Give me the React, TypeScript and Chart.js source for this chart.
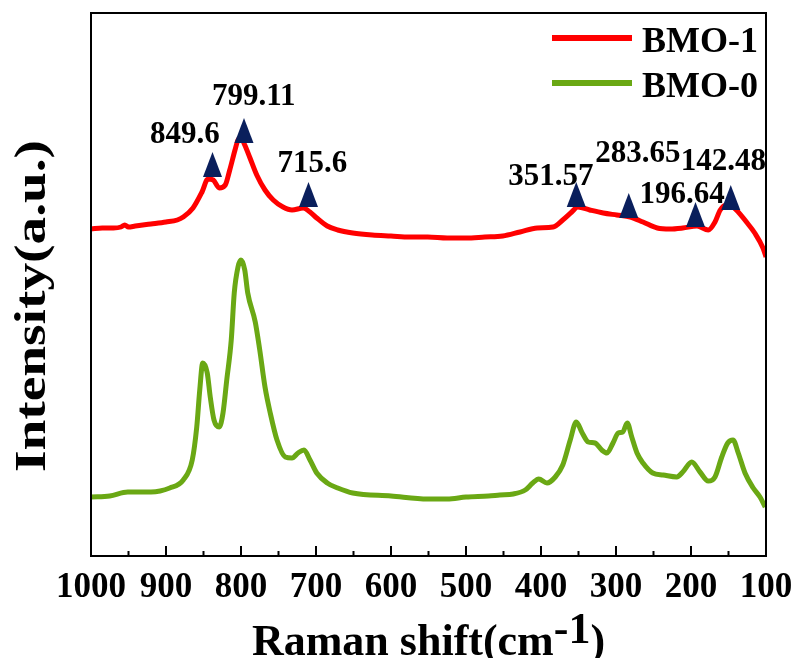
import React, { useEffect, useRef } from 'react';
import { Chart, registerables } from 'chart.js';

Chart.register(...registerables);

// ---------------- data ----------------
const seriesNames = ['BMO-1', 'BMO-0'];

const shiftBMO1 = [1000, 985, 970, 960, 955, 950, 941, 920, 900, 885, 877, 864, 852, 844, 837, 829, 821, 815, 808, 804, 800, 795, 788, 779, 768, 757, 744, 732, 717, 708, 699, 685, 671, 651, 625, 600, 575, 551, 525, 500, 475, 451, 428, 405, 384, 371, 359, 351, 335, 317, 299, 281, 264, 245, 228, 211, 192, 177, 168, 161, 153, 144, 125, 115, 104, 100];
const intensityBMO1 = [327, 328, 328, 329, 331, 329, 330, 332, 334, 336, 339, 348, 364, 377, 376, 368, 371, 386, 406, 416, 418, 411, 398, 381, 366, 356, 349, 346, 348, 344, 338, 330, 326, 323, 321, 320, 319, 319, 318, 318, 319, 320, 324, 328, 329, 336, 344, 349, 346, 343, 341, 339, 334, 328, 327, 328, 330, 326, 334, 346, 351, 349, 333, 323, 308, 299];

const shiftBMO0 = [1000, 975, 951, 920, 895, 877, 865, 859, 855, 851, 845, 841, 836, 829, 824, 819, 813, 809, 804, 800, 795, 791, 781, 775, 768, 761, 752, 741, 732, 724, 716, 708, 699, 685, 671, 651, 600, 551, 525, 500, 470, 455, 437, 421, 411, 403, 392, 381, 371, 361, 353, 345, 337, 328, 319, 312, 304, 297, 291, 285, 279, 272, 264, 251, 237, 219, 211, 199, 188, 177, 168, 159, 151, 144, 137, 128, 117, 108, 101];
const intensityBMO0 = [59, 60, 64, 64, 68, 76, 96, 129, 166, 193, 183, 159, 136, 129, 143, 176, 216, 263, 289, 296, 286, 263, 234, 206, 169, 143, 116, 99, 98, 103, 106, 96, 83, 73, 68, 63, 60, 57, 57, 59, 60, 61, 62, 66, 73, 77, 73, 79, 91, 116, 134, 123, 114, 113, 106, 103, 113, 123, 124, 133, 119, 103, 93, 83, 81, 79, 84, 94, 84, 75, 79, 99, 113, 116, 103, 83, 68, 59, 49];

const peakLabels = ['849.6', '799.11', '715.6', '351.57', '283.65', '196.64', '142.48'];
const peakMarkerShift = [838, 796, 710, 353, 283, 194, 147];
const peakMarkerIntensity = [379, 413, 349, 349, 338, 329, 346];
const peakLabelShift = [875, 783, 705, 387, 271, 212, 157];
const peakLabelIntensity = [413, 451, 384, 371, 394, 353, 386];

const xTickValues = [1000, 950, 900, 850, 800, 750, 700, 650, 600, 550, 500, 450, 400, 350, 300, 250, 200, 150, 100];

const xTitleMain = 'Raman shift(cm';
const xTitleSup = '-1';
const xTitleEnd = ')';
const yTitle = 'Intensity(a.u.)';

// ---------------- style ----------------
const FONT = "'Liberation Serif', 'Times New Roman', serif";
const RED = '#ff0000';
const GREEN = '#6aa814';
const MARKER = '#0a1f5c';

const decor = {
  id: 'decor',
  afterDraw(chart: any) {
    const { ctx, chartArea: a, scales } = chart;
    const xs = scales.x;
    const ys = scales.y;
    ctx.save();

    // frame
    ctx.strokeStyle = '#000';
    ctx.lineWidth = 2;
    ctx.strokeRect(a.left, a.top, a.right - a.left, a.bottom - a.top);

    // inward ticks
    ctx.lineWidth = 2;
    xTickValues.forEach((v) => {
      const px = xs.getPixelForValue(v);
      const len = v % 100 === 0 ? 10 : 5;
      ctx.beginPath();
      ctx.moveTo(px, a.bottom);
      ctx.lineTo(px, a.bottom - len);
      ctx.stroke();
    });

    // peak markers
    ctx.fillStyle = MARKER;
    peakMarkerShift.forEach((s, i) => {
      const px = xs.getPixelForValue(s);
      const py = ys.getPixelForValue(peakMarkerIntensity[i]);
      ctx.beginPath();
      ctx.moveTo(px - 9.5, py);
      ctx.lineTo(px + 9.5, py);
      ctx.lineTo(px, py - 25);
      ctx.closePath();
      ctx.fill();
    });

    // peak labels
    ctx.fillStyle = '#000';
    ctx.font = `bold 31px ${FONT}`;
    ctx.textAlign = 'center';
    ctx.textBaseline = 'alphabetic';
    peakLabels.forEach((t, i) => {
      ctx.fillText(t, xs.getPixelForValue(peakLabelShift[i]), ys.getPixelForValue(peakLabelIntensity[i]));
    });

    // legend
    ctx.font = `bold 36px ${FONT}`;
    ctx.textAlign = 'left';
    chart.data.datasets.forEach((ds: any, i: number) => {
      const y = 38 + i * 45;
      ctx.strokeStyle = ds.borderColor;
      ctx.lineWidth = 6;
      ctx.beginPath();
      ctx.moveTo(552, y);
      ctx.lineTo(632, y);
      ctx.stroke();
      ctx.fillStyle = '#000';
      ctx.fillText(ds.label, 642, 52 + i * 45);
    });

    // x title with superscript
    ctx.font = `bold 44px ${FONT}`;
    ctx.fillStyle = '#000';
    const w1 = ctx.measureText(xTitleMain).width;
    const w2 = ctx.measureText(xTitleSup).width;
    const w3 = ctx.measureText(xTitleEnd).width;
    const x0 = (a.left + a.right) / 2 - (w1 + w2 + w3) / 2;
    ctx.fillText(xTitleMain, x0, 655);
    ctx.fillText(xTitleSup, x0 + w1, 643);
    ctx.fillText(xTitleEnd, x0 + w1 + w2, 655);

    // y title
    ctx.save();
    ctx.font = `bold 45px ${FONT}`;
    const wy = ctx.measureText(yTitle).width;
    ctx.translate(45, 306);
    ctx.rotate(-Math.PI / 2);
    ctx.scale(332 / wy, 1);
    ctx.textAlign = 'center';
    ctx.fillText(yTitle, 0, 0);
    ctx.restore();

    ctx.restore();
  },
};

export default function App() {
  const ref = useRef<HTMLCanvasElement>(null);
  useEffect(() => {
    if (!ref.current) return;
    const chart = new Chart(ref.current, {
      type: 'line',
      data: {
        datasets: [
          {
            label: seriesNames[0],
            data: shiftBMO1.map((s, i) => ({ x: s, y: intensityBMO1[i] })),
            borderColor: RED,
            borderWidth: 5,
            pointRadius: 0,
            cubicInterpolationMode: 'monotone',
            fill: false,
          },
          {
            label: seriesNames[1],
            data: shiftBMO0.map((s, i) => ({ x: s, y: intensityBMO0[i] })),
            borderColor: GREEN,
            borderWidth: 5,
            pointRadius: 0,
            cubicInterpolationMode: 'monotone',
            fill: false,
          },
        ],
      },
      options: {
        responsive: false,
        animation: false,
        devicePixelRatio: 1,
        layout: { padding: { left: 91, right: 28, top: 13, bottom: 0 } },
        plugins: { legend: { display: false }, tooltip: { enabled: false } },
        scales: {
          x: {
            type: 'linear',
            reverse: true,
            min: 100,
            max: 1000,
            afterBuildTicks: (scale: any) => {
              scale.ticks = xTickValues.map((v) => ({ value: v }));
            },
            afterFit: (scale: any) => {
              scale.height = 102;
              scale.paddingLeft = 0;
              scale.paddingRight = 0;
            },
            grid: { display: false },
            border: { display: false },
            ticks: {
              autoSkip: false,
              maxRotation: 0,
              padding: 3,
              color: '#000',
              font: { family: FONT, size: 35, weight: 'bold' },
              callback: (v: any) => (Number(v) % 100 === 0 ? String(v) : ''),
            },
          },
          y: {
            display: false,
            min: 0,
            max: 543,
          },
        },
      },
      plugins: [decor],
    } as any);
    return () => chart.destroy();
  }, []);
  return (
    <div style={{ position: 'absolute', left: 0, top: 0, width: 794, height: 658, background: '#fff' }}>
      <canvas ref={ref} width={794} height={658} />
    </div>
  );
}
